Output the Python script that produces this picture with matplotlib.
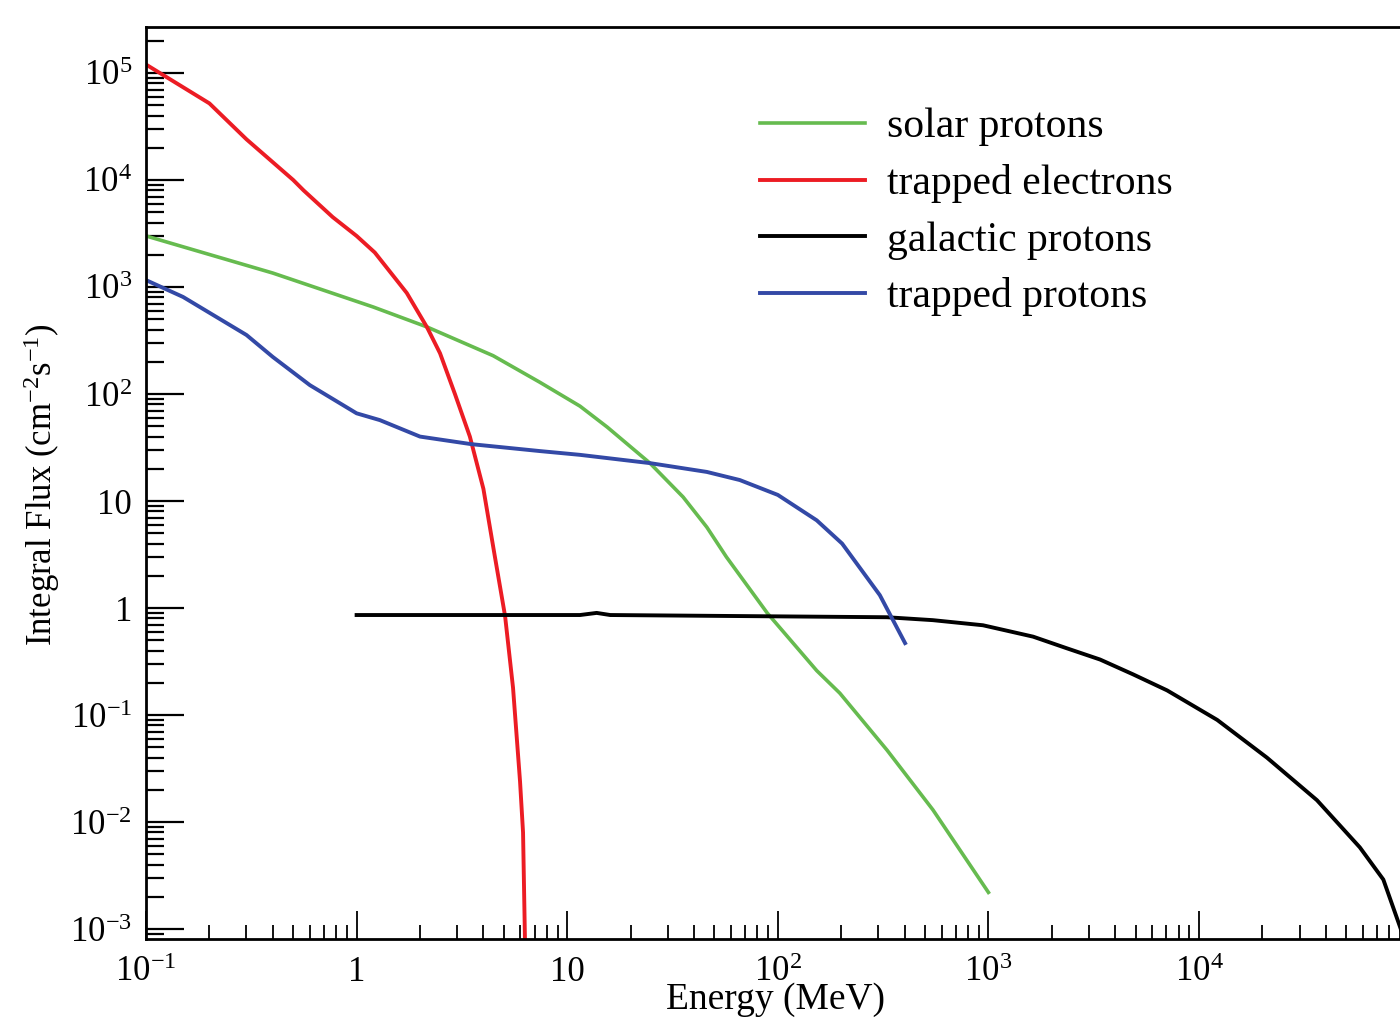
import matplotlib
matplotlib.use("Agg")
import matplotlib.pyplot as plt
from matplotlib.ticker import LogLocator, FuncFormatter, NullFormatter
import numpy as np

plt.rcParams['font.family'] = ['Liberation Serif', 'DejaVu Serif']
plt.rcParams['mathtext.fontset'] = 'custom'
plt.rcParams['mathtext.rm'] = 'Liberation Serif'
plt.rcParams['mathtext.it'] = 'Liberation Serif:italic'
plt.rcParams['mathtext.bf'] = 'Liberation Serif:bold'

# solar protons
energia_solar = [0.1, 0.4, 1.2, 2.16, 4.45, 7.4, 11.5, 15.5, 24.7, 35.5, 46, 57, 89, 153, 197, 330, 545, 1000]
flujo_solar = [3.0e3, 1.35e3, 650, 423, 228, 129, 77, 49, 22.6, 10.9, 5.7, 3.0, 0.9, 0.26, 0.16, 0.047, 0.013, 2.2e-3]

# trapped electrons
energia_electrones = [0.1, 0.2, 0.3, 0.5, 0.56, 0.77, 1.0, 1.22, 1.73, 2.16, 2.49, 2.93, 3.45, 4.0, 4.5,
                      5.07, 5.53, 5.97, 6.17, 6.3]
flujo_electrones = [1.2e5, 5.2e4, 2.4e4, 1.0e4, 8.0e3, 4.5e3, 3.0e3, 2.1e3, 880, 420, 240, 100, 40, 13, 3.3,
                    0.84, 0.18, 0.024, 0.008, 8e-4]

# galactic protons
energia_galactic = [1.0, 11.5, 13.8, 16, 330, 545, 942, 1630, 2360, 3390, 4860, 7050, 1.22e4, 2.1e4,
                    3.63e4, 5.8e4, 7.5e4, 9.0e4, 1.0e5]
flujo_galactic = [0.86, 0.86, 0.9, 0.86, 0.82, 0.77, 0.69, 0.54, 0.42, 0.33, 0.24, 0.17, 0.09, 0.040,
                  0.016, 5.8e-3, 2.9e-3, 1.05e-3, 5.7e-4]

# trapped protons
energia_atrapados = [0.1, 0.15, 0.3, 0.4, 0.6, 1.0, 1.29, 2.0, 3.5, 7.4, 11.5, 24.7, 46, 66, 100, 153, 202,
                     305, 402]
flujo_atrapados = [1.16e3, 807, 356, 222, 121, 66, 57, 40, 34, 29.3, 27, 22.6, 18.7, 15.7, 11.4, 6.6, 4.0,
                   1.32, 0.47]

nombres = ['solar protons', 'trapped electrons', 'galactic protons', 'trapped protons']
colores = ['#66bb4f', '#ec1c24', '#000000', '#3349a6']

fig = plt.figure(figsize=(14, 10.18), dpi=100)
ax = fig.add_axes([146 / 1400, 1 - 939 / 1018, 1 - 146 / 1400, (939 - 27) / 1018])

ax.plot(energia_solar, flujo_solar, color=colores[0], lw=2.6, label=nombres[0])
ax.plot(energia_electrones, flujo_electrones, color=colores[1], lw=2.8, label=nombres[1])
ax.plot(energia_galactic, flujo_galactic, color=colores[2], lw=2.8, label=nombres[2])
ax.plot(energia_atrapados, flujo_atrapados, color=colores[3], lw=2.8, label=nombres[3])

ax.set_xscale('log')
ax.set_yscale('log')
ax.set_xlim(0.1, 9.0e4)
ax.set_ylim(8.07e-4, 2.69e5)

def etiqueta(v, pos):
    n = int(round(np.log10(v)))
    if n == 0:
        return '1'
    if n == 1:
        return '10'
    return r'$\mathdefault{10^{%d}}$' % n

ax.xaxis.set_major_locator(LogLocator(base=10, numticks=20))
ax.yaxis.set_major_locator(LogLocator(base=10, numticks=20))
ax.xaxis.set_minor_locator(LogLocator(base=10, subs=np.arange(2, 10), numticks=50))
ax.yaxis.set_minor_locator(LogLocator(base=10, subs=np.arange(2, 10), numticks=50))
ax.xaxis.set_major_formatter(FuncFormatter(etiqueta))
ax.yaxis.set_major_formatter(FuncFormatter(etiqueta))
ax.xaxis.set_minor_formatter(NullFormatter())
ax.yaxis.set_minor_formatter(NullFormatter())

ax.tick_params(axis='x', which='major', direction='in', length=20, width=1.3, labelsize=25, pad=12)
ax.tick_params(axis='x', which='minor', direction='in', length=10, width=1.3)
ax.tick_params(axis='y', which='major', direction='in', length=27, width=1.6, labelsize=25, pad=10)
ax.tick_params(axis='y', which='minor', direction='in', length=13, width=1.6)
ax.tick_params(top=False, right=False)

ax.spines['right'].set_visible(False)
for s in ['left', 'bottom', 'top']:
    ax.spines[s].set_linewidth(2.0)

fig.text(775 / 1400, 1 - 1000 / 1018, 'Energy (MeV)', fontsize=27, ha='center', va='center')
fig.text(42 / 1400, 1 - 485 / 1018, r'Integral Flux (cm$^{\mathdefault{-2}}$s$^{\mathdefault{-1}}$)',
         fontsize=25, rotation=90, ha='center', va='center')

leg = ax.legend(loc='upper left', bbox_to_anchor=((760 - 146) / (1400 - 146) - 0.013, 1 - (91 - 27) / 912),
                frameon=False, fontsize=30, handlelength=2.5, handletextpad=0.53, labelspacing=0.43,
                borderaxespad=0)

fig.savefig('out.png', dpi=100)
